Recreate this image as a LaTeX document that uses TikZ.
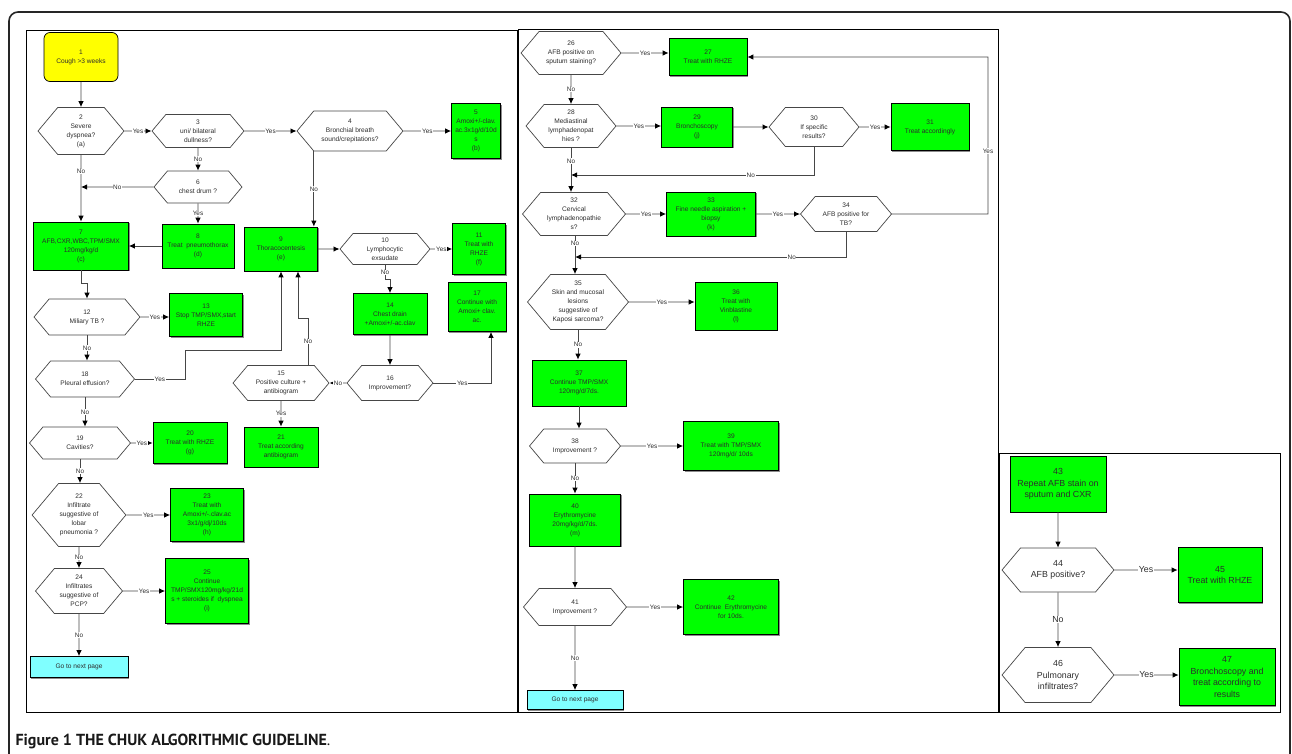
\documentclass[tikz,border=0pt]{standalone}
\usepackage{fontspec}
\setmainfont{Liberation Sans}
\newfontfamily\capfont{PT Sans}
\usetikzlibrary{arrows.meta,shapes.symbols,shadows,calc}
\definecolor{boxgreen}{RGB}{0,255,0}
\definecolor{startyellow}{RGB}{255,255,0}
\definecolor{gocyan}{RGB}{128,255,255}
\definecolor{linegray}{RGB}{70,70,70}
\definecolor{textgray}{RGB}{45,45,45}
\tikzset{
    txt/.style={font=\fontsize{6.6}{9}\selectfont, align=center, text=textgray},
    big/.style={font=\fontsize{8.8}{11.5}\selectfont},
    wh/.style 2 args={minimum width=#1pt, minimum height=#2pt},
    box/.style={txt, rectangle, draw=black, line width=0.7pt, fill=boxgreen, inner sep=1pt,
        drop shadow={shadow xshift=1.2pt, shadow yshift=-1.2pt, fill=black!45, opacity=1}},
    start/.style={txt, rectangle, rounded corners=6pt, draw=black, line width=0.7pt, fill=startyellow},
    goto/.style={txt, rectangle, draw=black, line width=0.7pt, fill=gocyan,
        drop shadow={shadow xshift=1pt, shadow yshift=-1pt, fill=black!45, opacity=1}},
    test/.style={txt, signal, signal to=east and west, signal pointer angle=100, draw=linegray, line width=0.7pt, fill=white, inner sep=1pt},
    arr/.style={-{Latex[length=6pt,width=5.5pt,color=black]}, draw=linegray, line width=0.9pt},
    lbl/.style={font=\fontsize{6.4}{7}\selectfont, text=textgray, fill=white, inner sep=0.6pt},
    panel/.style={draw=black, line width=0.9pt},
}

\begin{document}
\begin{tikzpicture}[x=1pt, y=-1pt]
    \useasboundingbox (0,0) rectangle (1292,753);
    \draw[line width=1.6pt, draw=black!85, rounded corners=9pt] (9,12) rectangle (1290,790);
    \draw[panel] (26,30) rectangle (517,712);
    \draw[panel] (518,29) rectangle (998,712);
    \draw[panel] (999,453) rectangle (1280,712);

    % first page
    \node[start, wh={74}{49}] (1) at (81,57) {1\\Cough >3 weeks};
    \node[test, wh={86}{47}] (2) at (81,131) {2\\Severe\\dyspnea?\\(a)};
    \node[test, wh={92}{33}] (3) at (198,131) {3\\uni/ bilateral\\dullness?};
    \node[test, wh={106}{40}] (4) at (350,131) {4\\Bronchial breath\\sound/crepitations?};
    \node[box, wh={49}{55}] (5) at (476,131) {5\\Amoxi+/-clav.\\ac.3x1g/d/10d\\s\\(b)};
    \node[test, wh={88}{32}] (6) at (198,187) {6\\chest drum ?};
    \node[box, wh={95}{48}] (7) at (81,246) {7\\AFB,CXR,WBC,TPM/SMX\\120mg/kg/d\\(c)};
    \node[box, wh={72}{44}] (8) at (198,246) {8\\Treat~ pneumothorax\\(d)};
    \node[box, wh={73}{44}] (9) at (281,249) {9\\Thoracocentesis\\(e)};
    \node[test, wh={90}{31}] (10) at (385,249) {10\\Lymphocytic\\exsudate};
    \node[box, wh={53}{51}] (11) at (479,249) {11\\Treat with\\RHZE\\(f)};
    \node[test, wh={106}{36}] (12) at (87,317) {12\\Miliary TB ?};
    \node[box, wh={73}{43}] (13) at (206,315) {13\\Stop TMP/SMX,start\\RHZE};
    \node[box, wh={74}{41}] (14) at (390,314) {14\\Chest drain\\+Amoxi+/-ac.clav};
    \node[test, wh={96}{35}] (15) at (281,383) {15\\Positive culture +\\antibiogram};
    \node[test, wh={86}{35}] (16) at (390,383) {16\\Improvement?};
    \node[box, wh={58}{49}] (17) at (477,307) {17\\Continue with\\Amoxi+ clav.\\ac.};
    \node[test, wh={99}{36}] (18) at (85,379) {18\\Pleural effusion?};
    \node[test, wh={101}{32}] (19) at (80,443) {19\\Cavities?};
    \node[box, wh={74}{41}] (20) at (190,443) {20\\Treat with RHZE\\(g)};
    \node[box, wh={74}{40}] (21) at (281,447) {21\\Treat according\\antibiogram};
    \node[test, wh={87}{63}] (22) at (79,515) {22\\Infiltrate\\suggestive of\\lobar\\pneumonia ?};
    \node[box, wh={73}{53}] (23) at (207,515) {23\\Treat with\\Amoxi+/-.clav.ac\\3x1/g/dj/10ds\\(h)};
    \node[test, wh={87}{45}] (24) at (79,591) {24\\Infiltrates\\suggestive of\\PCP?};
    \node[box, wh={83}{65}] (25) at (207,591) {25\\Continue\\TMP/SMX120mg/kg/21d\\s + steroides if~ dyspnea\\(i)};
    \node[goto, wh={98}{21}] (g1) at (79,667) {Go to next page};

    \draw[arr] (1) -- (2);
    \draw[arr] (2) -- node[lbl] {Yes} (3);
    \draw[arr] (3) -- node[lbl] {Yes} (4);
    \draw[arr] (4) -- node[lbl] {Yes} (5);
    \draw[arr] (3) -- node[lbl] {No} (6);
    \draw[arr] (2) -- node[lbl, pos=0.25] {No} (7);
    \draw[arr] (6) -- node[lbl] {No} (6 -| 2);
    \draw[arr] (6) -- node[lbl] {Yes} (8);
    \draw[arr] (8) -- (7);
    \coordinate (n9in) at ([xshift=-4pt]9.north east);
    \draw[arr] (n9in |- 4.south) -- node[lbl] {No} (n9in);
    \draw[arr] (9) -- (10);
    \draw[arr] (10) -- node[lbl] {Yes} (11);
    \draw[arr] (10.south) -- node[lbl] {No} ++(0,15) -| (14.north);
    \draw[arr] (14) -- (16);
    \coordinate (n17in) at ([xshift=14pt]17.south);
    \draw[arr] (16.east) -- node[lbl] {Yes} (16.east -| n17in) -- (n17in);
    \draw[arr] (16) -- node[lbl] {No} (15);
    \coordinate (n15up) at ([xshift=27pt]15.north);
    \coordinate (n9dn) at ([xshift=17pt]9.south);
    \draw[arr] (n15up) -- node[lbl] {No} ++(0,-47) -| (n9dn);
    \draw[arr] (18.east) -- node[lbl] {Yes} ++(50,0) -- ++(0,-29) -| (9.south);
    \draw[arr] (15) -- node[lbl] {Yes} (21);
    \draw[arr] (7.south) -- ++(0,13) -| (12.north);
    \draw[arr] (12) -- node[lbl] {Yes} (12 -| 13.west);
    \draw[arr] (12.south) -- node[lbl] {No} (12.south |- 18.north);
    \draw[arr] (18.south) -- node[lbl] {No} (18.south |- 19.north);
    \draw[arr] (19) -- node[lbl] {Yes} (20);
    \draw[arr] (19.south) -- node[lbl] {No} (19.south |- 22.north);
    \draw[arr] (22) -- node[lbl] {Yes} (23);
    \draw[arr] (22) -- node[lbl] {No} (24);
    \draw[arr] (24) -- node[lbl] {Yes} (25);
    \draw[arr] (24) -- node[lbl] {No} (g1);

    % second page
    \node[test, wh={100}{43}] (26) at (571,53) {26\\AFB positive on\\sputum staining?};
    \node[box, wh={78}{37}] (27) at (708,57) {27\\Treat with RHZE};
    \node[test, wh={90}{43}] (28) at (571,126) {28\\Mediastinal\\lymphadenopat\\hies ?};
    \node[box, wh={71}{40}] (29) at (697,127) {29\\Bronchoscopy\\(j)};
    \node[test, wh={90}{39}] (30) at (814,127) {30\\If specific\\results?};
    \node[box, wh={78}{47}] (31) at (930,127) {31\\Treat accordingly};
    \node[test, wh={103}{43}] (32) at (574,214) {32\\Cervical\\lymphadenopathie\\s?};
    \node[box, wh={89}{44}] (33) at (711,214) {33\\Fine needle aspiration +\\biopsy\\(k)};
    \node[test, wh={91}{35}] (34) at (846,214) {34\\AFB positive for\\TB?};
    \node[test, wh={101}{55}] (35) at (578,302) {35\\Skin and mucosal\\lesions\\suggestive of\\Kaposi sarcoma?};
    \node[box, wh={82}{48}] (36) at (736,306) {36\\Treat with\\Vinblastine\\(l)};
    \node[box, wh={94}{46}] (37) at (579,383) {37\\Continue TMP/SMX\\120mg/d/7ds.};
    \node[test, wh={91}{34}] (38) at (575,446) {38\\Improvement ?};
    \node[box, wh={95}{49}] (39) at (731,446) {39\\Treat with TMP/SMX\\120mg/d/ 10ds};
    \node[box, wh={91}{52}] (40) at (575,520) {40\\Erythromycine\\20mg/kg/d/7ds.\\(m)};
    \node[test, wh={103}{37}] (41) at (575,607) {41\\Improvement ?};
    \node[box, wh={95}{55}] (42) at (731,607) {42\\Continue~ Erythromycine\\for 10ds.};
    \node[goto, wh={96}{19}] (g2) at (575,700) {Go to next page};

    \draw[arr] (26) -- node[lbl] {Yes} (26 -| 27.west);
    \draw[arr] (26) -- node[lbl] {No} (28);
    \draw[arr] (28) -- node[lbl] {Yes} (28 -| 29.west);
    \draw[arr] (29) -- (30);
    \draw[arr] (30) -- node[lbl] {Yes} (31);
    \coordinate (j28) at (571,175);
    \draw[arr] (30.south) |- node[lbl, pos=0.63] {No} (j28);
    \draw[arr] (28.south) -- node[lbl, pos=0.3] {No} (28.south |- 32.north);
    \draw[arr] (32) -- node[lbl] {Yes} (33);
    \draw[arr] (33) -- node[lbl] {Yes} (34);
    \coordinate (yes34) at (988,214);
    \draw[arr] (34) -- (yes34) |- node[lbl, pos=0.2] {Yes} (27);
    \coordinate (j32) at (575,257);
    \draw[arr] (34.south) |- node[lbl, pos=0.6] {No} (j32);
    \draw[arr] ([xshift=1pt]32.south) -- node[lbl, pos=0.2] {No} ([xshift=1pt]32.south |- 35.north);
    \draw[arr] (35) -- node[lbl] {Yes} (35 -| 36.west);
    \draw[arr] (35.south) -- node[lbl] {No} (35.south |- 37.north);
    \draw[arr] (37.south) -- (37.south |- 38.north);
    \draw[arr] (38) -- node[lbl] {Yes} (39);
    \draw[arr] (38.south) -- node[lbl] {No} (38.south |- 40.north);
    \draw[arr] (40) -- (41);
    \draw[arr] (41) -- node[lbl] {Yes} (42);
    \draw[arr] (41) -- node[lbl] {No} (g2);

    % third page
    \node[box, big, wh={96}{56}] (43) at (1058,484) {43\\Repeat AFB stain on\\sputum and CXR};
    \node[test, big, wh={112}{44}] (44) at (1058,570) {44\\AFB positive?};
    \node[box, big, wh={84}{55}] (45) at (1220,575) {45\\Treat with RHZE};
    \node[test, big, wh={112}{55}] (46) at (1058,675) {46\\Pulmonary\\infiltrates?};
    \node[box, big, wh={96}{57}] (47) at (1227,677) {47\\Bronchoscopy and\\treat according to\\results};

    \draw[arr] (43) -- (44);
    \draw[arr] (44) -- node[lbl, big] {Yes} (44 -| 45.west);
    \draw[arr] (44) -- node[lbl, big] {No} (46);
    \draw[arr] (46) -- node[lbl, big] {Yes} (46 -| 47.west);

    \node[anchor=base west, text=black!90, font=\capfont\bfseries\fontsize{16}{19}\selectfont] (cap) at (12,745) {Figure 1 THE CHUK ALGORITHMIC GUIDELINE\textmd{.}};
\end{tikzpicture}
\end{document}
